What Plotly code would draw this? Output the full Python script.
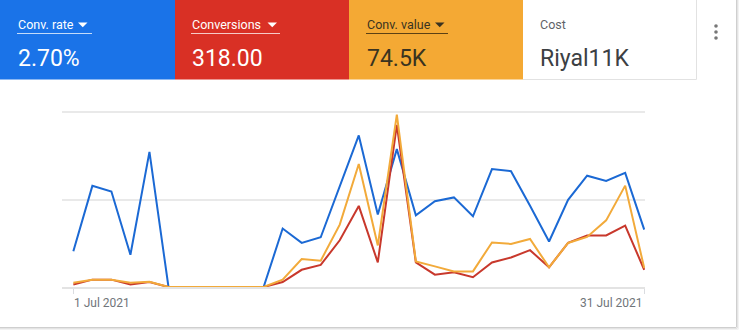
import pandas as pd
import plotly.graph_objects as go

# Daily performance, July 2021
days = pd.date_range("2021-07-01", "2021-07-31", freq="D")
conv_rate = [1.02, 2.89, 2.73, 0.92, 3.86, 0, 0, 0, 0, 0, 0,
             1.67, 1.26, 1.42, 2.87, 4.33, 2.07, 3.94, 2.05, 2.45, 2.56,
             2.02, 3.37, 3.31, 2.32, 1.30, 2.49, 3.18, 3.03, 3.26, 1.64]
conversions = [1, 3, 3, 1, 2, 0, 0, 0, 0, 0, 0,
               2, 7, 9, 19, 33, 10, 66, 10, 5, 6,
               4, 10, 12, 15, 8, 18, 21, 21, 25, 7]
conv_value = [320, 540, 540, 320, 390, 0, 0, 0, 0, 0, 0,
              540, 2080, 1950, 4630, 9140, 3090, 12800, 1900, 1530, 1160,
              1160, 3310, 3200, 3570, 1460, 3270, 3720, 4950, 7530, 1410]

# Scorecard tiles
tile_labels = ["Conv. rate", "Conversions", "Conv. value", "Cost"]
tile_values = ["2.70%", "318.00", "74.5K", "Riyal11K"]
date_labels = ["1 Jul 2021", "31 Jul 2021"]

W, H = 740, 331
L, R, T, B = 62, 95, 100, 44
PW, PH = W - L - R, H - T - B


def px(x):
    return (x - L) / PW


def py(y):
    return (H - B - y) / PH


BLUE, RED, ORANGE = "#1a73e8", "#d93025", "#f4a934"
LINE_BLUE, LINE_RED, LINE_ORANGE = "#1b69d4", "#c8382c", "#f2aa3a"

fig = go.Figure()
fig.add_trace(go.Scatter(x=days, y=conv_rate, mode="lines", yaxis="y",
                         line=dict(color=LINE_BLUE, width=2), name=tile_labels[0]))
fig.add_trace(go.Scatter(x=days, y=conversions, mode="lines", yaxis="y2",
                         line=dict(color=LINE_RED, width=2), name=tile_labels[1]))
fig.add_trace(go.Scatter(x=days, y=conv_value, mode="lines", yaxis="y3",
                         line=dict(color=LINE_ORANGE, width=2), name=tile_labels[2]))

shapes = []
annotations = []

# tile backgrounds
tiles = [(0, 175, BLUE), (175, 349, RED), (349, 523, ORANGE), (523, 696, "#ffffff")]
for x0, x1, c in tiles:
    shapes.append(dict(type="rect", xref="paper", yref="paper",
                       x0=px(x0), x1=px(x1), y0=py(79.5), y1=py(0),
                       fillcolor=c, line=dict(width=0), layer="below"))
# cost tile border
shapes.append(dict(type="line", xref="paper", yref="paper",
                   x0=px(523), x1=px(696.5), y0=py(79.5), y1=py(79.5),
                   line=dict(color="#e2e2e2", width=1)))
shapes.append(dict(type="line", xref="paper", yref="paper",
                   x0=px(696.5), x1=px(696.5), y0=py(0), y1=py(79.5),
                   line=dict(color="#e2e2e2", width=1)))

text_dark = "#3c4043"
label_colors = ["#ffffff", "#ffffff", "#3a3320", "#5f6368"]
value_colors = ["#ffffff", "#ffffff", "#3a3320", text_dark]
text_x = [17, 191, 366, 539]
underline = [(17, 92, "rgba(255,255,255,0.75)"), (191, 280, "rgba(255,255,255,0.75)"),
             (366, 448, "rgba(40,30,10,0.75)")]
arrows = [(78, "#ffffff"), (267.5, "#ffffff"), (435, "#3a3320")]

for i in range(4):
    annotations.append(dict(xref="paper", yref="paper", x=px(text_x[i]), y=py(24.7),
                            xanchor="left", yanchor="middle", showarrow=False,
                            text=tile_labels[i], borderpad=0,
                            font=dict(family="Roboto", size=12.5, color=label_colors[i])))
    annotations.append(dict(xref="paper", yref="paper", x=px(text_x[i]), y=py(58.5),
                            xanchor="left", yanchor="middle", showarrow=False,
                            text=tile_values[i], borderpad=0,
                            font=dict(family="Roboto", size=23, color=value_colors[i])))

for x0, x1, c in underline:
    shapes.append(dict(type="line", xref="paper", yref="paper",
                       x0=px(x0), x1=px(x1), y0=py(33.5), y1=py(33.5),
                       line=dict(color=c, width=1)))

for ax, c in arrows:
    path = "M {} {} L {} {} L {} {} Z".format(px(ax), py(22.5), px(ax + 9.5), py(22.5),
                                              px(ax + 4.75), py(27.3))
    shapes.append(dict(type="path", xref="paper", yref="paper", path=path,
                       fillcolor=c, line=dict(width=0)))

# overflow menu dots
for cy in (26, 32, 38):
    shapes.append(dict(type="circle", xref="paper", yref="paper",
                       x0=px(714.2), x1=px(717.8), y0=py(cy + 1.8), y1=py(cy - 1.8),
                       fillcolor="#777777", line=dict(width=0)))

# card edge shadow
for off, c in ((0, "#cfcfcf"), (1, "#e4e4e4"), (2, "#f2f2f2")):
    shapes.append(dict(type="line", xref="paper", yref="paper",
                       x0=px(736.5 + off), x1=px(736.5 + off), y0=py(0), y1=py(327 + off),
                       line=dict(color=c, width=1)))
    shapes.append(dict(type="line", xref="paper", yref="paper",
                       x0=px(0), x1=px(736.5 + off), y0=py(327.5 + off), y1=py(327.5 + off),
                       line=dict(color=c, width=1)))

# x-axis date labels
annotations.append(dict(xref="x", yref="paper", x=days[0], y=py(303),
                        xanchor="left", yanchor="middle", showarrow=False,
                        text=date_labels[0], borderpad=0,
                        font=dict(family="Roboto", size=12, color="#70757a")))
annotations.append(dict(xref="x", yref="paper", x=days[-1], y=py(303),
                        xanchor="right", yanchor="middle", showarrow=False,
                        text=date_labels[1], borderpad=0,
                        font=dict(family="Roboto", size=12, color="#70757a")))

x_start = days[0] - pd.Timedelta(hours=14.3)
x_end = days[-1] + pd.Timedelta(hours=1)

fig.update_layout(
    width=W, height=H,
    margin=dict(l=L, r=R, t=T, b=B, pad=0),
    paper_bgcolor="#ffffff", plot_bgcolor="#ffffff",
    showlegend=False,
    xaxis=dict(type="date", range=[x_start, x_end], showgrid=False, zeroline=False,
               tickvals=[days[0], days[-1]], ticks="outside", ticklen=5,
               tickcolor="#dadce0", tickwidth=1, showticklabels=False,
               showline=True, linecolor="#e3e3e3", linewidth=2),
    yaxis=dict(range=[0, 5.343], tickvals=[0, 2.5, 5], showgrid=True,
               gridcolor="#e9e9e9", gridwidth=2, showticklabels=False,
               zeroline=False, showline=False, ticks=""),
    yaxis2=dict(range=[0, 76.1], overlaying="y", showgrid=False, showticklabels=False,
                zeroline=False, showline=False, ticks=""),
    yaxis3=dict(range=[0, 13890], overlaying="y", showgrid=False, showticklabels=False,
                zeroline=False, showline=False, ticks=""),
    shapes=shapes,
    annotations=annotations,
)

fig.write_html("out.html")
